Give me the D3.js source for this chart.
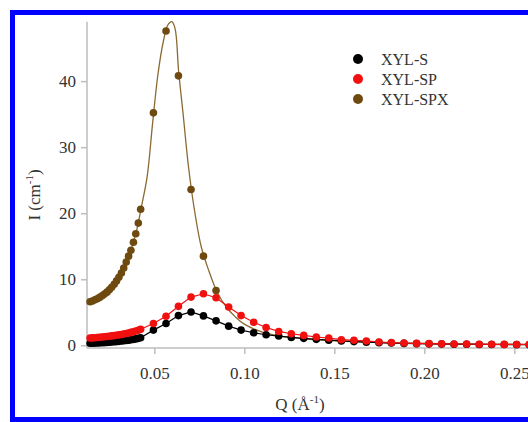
<!DOCTYPE html>
<html>
<head>
<meta charset="utf-8">
<script src="https://cdn.jsdelivr.net/npm/d3@7"></script>
<style>
  html, body { margin: 0; padding: 0; background: #fff; overflow: hidden; }
  svg { display: block; }
  svg text { font-family: "Liberation Serif", "Times New Roman", serif !important; }
</style>
</head>
<body>
<div id="chart"></div>
<script>
// 1: DATA
const seriesNames = ["XYL-S", "XYL-SP", "XYL-SPX"];

// low-Q detector points
const qLow = [0.0143, 0.0156, 0.0170, 0.0183, 0.0196, 0.0210, 0.0223, 0.0237, 0.0250, 0.0263, 0.0277,
              0.0290, 0.0303, 0.0317, 0.0330, 0.0344, 0.0357, 0.0370, 0.0384, 0.0397, 0.0411, 0.0424];
const sLow   = [0.30, 0.31, 0.33, 0.35, 0.37, 0.39, 0.41, 0.44, 0.47, 0.50, 0.53,
                0.56, 0.60, 0.64, 0.68, 0.73, 0.78, 0.84, 0.90, 0.97, 1.05, 1.15];
const spLow  = [1.10, 1.12, 1.15, 1.18, 1.21, 1.25, 1.29, 1.33, 1.37, 1.42, 1.47,
                1.52, 1.58, 1.64, 1.71, 1.78, 1.86, 1.95, 2.05, 2.16, 2.28, 2.42];
const spxLow = [6.6, 6.7, 6.9, 7.05, 7.25, 7.5, 7.75, 8.05, 8.4, 8.8, 9.25,
                9.75, 10.3, 10.95, 11.7, 12.6, 13.5, 14.4, 15.6, 16.9, 18.5, 20.6];

// high-Q detector points
const qHigh = [0.0495, 0.0565, 0.0634, 0.0704, 0.0773, 0.0843, 0.0913, 0.0982, 0.1052, 0.1121, 0.1191,
               0.1261, 0.1330, 0.1400, 0.1469, 0.1539, 0.1609, 0.1678, 0.1748, 0.1817, 0.1887, 0.1957,
               0.2026, 0.2096, 0.2165, 0.2235, 0.2305, 0.2374, 0.2444, 0.2513, 0.2583];
const sHigh  = [2.3, 3.3, 4.5, 5.05, 4.45, 3.7, 2.9, 2.3, 1.9, 1.6, 1.4,
                1.2, 1.05, 0.9, 0.78, 0.66, 0.56, 0.48, 0.40, 0.34, 0.29, 0.25,
                0.22, 0.19, 0.17, 0.15, 0.13, 0.12, 0.11, 0.10, 0.09];
const spHigh = [3.3, 4.4, 5.9, 7.3, 7.8, 7.2, 5.8, 4.5, 3.5, 2.7, 2.1,
                1.75, 1.5, 1.26, 1.1, 0.85, 0.76, 0.66, 0.50, 0.42, 0.34, 0.29,
                0.25, 0.22, 0.20, 0.18, 0.16, 0.15, 0.14, 0.13, 0.12];
const spxHighQ = [0.0495, 0.0565, 0.0634, 0.0704, 0.0773, 0.0843];
const spxHigh  = [35.2, 47.6, 40.8, 23.6, 13.5, 8.3];

// fitted curve for XYL-SPX
const fitQ = [0.0130, 0.0160, 0.0200, 0.0240, 0.0280, 0.0320, 0.0360, 0.0400, 0.0430, 0.0460, 0.0490,
              0.0520, 0.0550, 0.0575, 0.0597, 0.0615, 0.0635, 0.0660, 0.0690, 0.0720, 0.0760, 0.0800,
              0.0850, 0.0900, 0.0950, 0.1000, 0.1100, 0.1200, 0.1400, 0.1600, 0.1800, 0.2000, 0.2200,
              0.2400, 0.2600, 0.2800];
const fitI = [6.4, 6.75, 7.3, 8.15, 9.35, 11.1, 13.6, 17.2, 21.2, 25.5, 33.5,
              41, 46, 48.5, 49.0, 48.0, 41.5, 35, 27, 21, 15, 11.5,
              8.0, 5.8, 4.3, 3.2, 2.0, 1.4, 0.85, 0.55, 0.38, 0.28, 0.22,
              0.18, 0.15, 0.13];

const xTicks = [0.05, 0.10, 0.15, 0.20, 0.25];
const yTicks = [0, 10, 20, 30, 40];

// 2: SIZES
const W = 528, H = 422;
const colS = "#000000", colSP = "#f01010", colSPX = "#6e4a10";
const axisCol = "#bdbdbd", textCol = "#333";
const serif = '"Liberation Serif", "Times New Roman", serif';

const svg = d3.select("#chart").append("svg")
    .attr("width", W)
    .attr("height", H);

// blue frame
svg.append("rect")
    .attr("x", 12.5).attr("y", 12.5)
    .attr("width", 620).attr("height", 407)
    .attr("fill", "#fff")
    .attr("stroke", "#0000ff")
    .attr("stroke-width", 5);

// 3: SCALES
const x = d3.scaleLinear().domain([0.0126, 0.30]).range([87, 87 + (0.30 - 0.0126) * 1800]);
const y = d3.scaleLinear().domain([0, 49]).range([345.3, 21.7]);
const axisY = 348;

// 4: AXES
// y axis line + ticks
svg.append("line")
    .attr("x1", 87).attr("x2", 87)
    .attr("y1", y.range()[1]).attr("y2", axisY)
    .attr("stroke", axisCol).attr("stroke-width", 1.5);
const gy = svg.append("g")
    .attr("transform", "translate(87,0)")
    .call(d3.axisLeft(y).tickValues(yTicks).tickSize(6).tickSizeOuter(0).tickPadding(5));
gy.attr("font-family", serif);
gy.select(".domain").remove();
gy.selectAll(".tick line").attr("stroke", axisCol).attr("stroke-width", 1.5);
gy.selectAll(".tick text").attr("fill", textCol).style("font-size", "17px");

// x axis line + ticks
svg.append("line")
    .attr("x1", 87).attr("x2", W)
    .attr("y1", axisY).attr("y2", axisY)
    .attr("stroke", axisCol).attr("stroke-width", 1.5);
const gx = svg.append("g")
    .attr("transform", `translate(0,${axisY})`)
    .call(d3.axisBottom(x).tickValues(xTicks).tickFormat(d3.format(".2f")).tickSize(6).tickSizeOuter(0));
gx.attr("font-family", serif);
gx.select(".domain").remove();
gx.selectAll(".tick line").attr("stroke", axisCol).attr("stroke-width", 1.5);
gx.selectAll(".tick text")
    .attr("fill", textCol)
    .attr("y", 31).attr("dy", null)
    .style("font-size", "17px");

// 5: PLOT DATA
svg.append("clipPath").attr("id", "plotclip")
    .append("rect").attr("x", 80).attr("y", 15).attr("width", 600).attr("height", 340);
const plot = svg.append("g").attr("clip-path", "url(#plotclip)");

const line = d3.line().x(d => x(d[0])).y(d => y(d[1]));
const smooth = d3.line().x(d => x(d[0])).y(d => y(d[1])).curve(d3.curveCatmullRom);

// XYL-SPX fit + points
plot.append("path")
    .datum(fitQ.map((q, i) => [q, fitI[i]]))
    .attr("d", smooth)
    .attr("fill", "none")
    .attr("stroke", "#8a6a32")
    .attr("stroke-width", 1.3);

const spxPts = qLow.map((q, i) => [q, spxLow[i]]).concat(spxHighQ.map((q, i) => [q, spxHigh[i]]));
plot.selectAll(".spx").data(spxPts).enter().append("circle")
    .attr("class", "spx")
    .attr("cx", d => x(d[0])).attr("cy", d => y(d[1]))
    .attr("r", 3.8).attr("fill", colSPX);

// XYL-S
const sPts = qLow.map((q, i) => [q, sLow[i]]).concat(qHigh.map((q, i) => [q, sHigh[i]]));
plot.append("path").datum(sPts).attr("d", line)
    .attr("fill", "none").attr("stroke", colS).attr("stroke-width", 1.2);
plot.selectAll(".s").data(sPts).enter().append("circle")
    .attr("class", "s")
    .attr("cx", d => x(d[0])).attr("cy", d => y(d[1]))
    .attr("r", 3.8).attr("fill", colS);

// XYL-SP
const spPts = qLow.map((q, i) => [q, spLow[i]]).concat(qHigh.map((q, i) => [q, spHigh[i]]));
plot.append("path").datum(spPts).attr("d", line)
    .attr("fill", "none").attr("stroke", colSP).attr("stroke-width", 1.2);
plot.selectAll(".sp").data(spPts).enter().append("circle")
    .attr("class", "sp")
    .attr("cx", d => x(d[0])).attr("cy", d => y(d[1]))
    .attr("r", 3.8).attr("fill", colSP);

// 6: LABELS
const xt = svg.append("text")
    .attr("x", 300).attr("y", 410)
    .attr("text-anchor", "middle")
    .attr("fill", textCol)
    .style("font-family", serif)
    .style("font-size", "17px");
xt.append("tspan").text("Q (Å");
xt.append("tspan").attr("dy", -7).style("font-size", "11px").text("-1");
xt.append("tspan").attr("dy", 7).text(")");

const yt = svg.append("text")
    .attr("transform", "translate(40,195) rotate(-90)")
    .attr("text-anchor", "middle")
    .attr("fill", textCol)
    .style("font-family", serif)
    .style("font-size", "17px");
yt.append("tspan").text("I (cm");
yt.append("tspan").attr("dy", -7).style("font-size", "11px").text("-1");
yt.append("tspan").attr("dy", 7).text(")");

// legend
const legendColors = [colS, colSP, colSPX];
const leg = svg.selectAll(".leg").data(seriesNames).enter().append("g")
    .attr("class", "leg")
    .attr("transform", (d, i) => `translate(358,${59 + i * 20})`);
leg.append("circle").attr("r", 5).attr("fill", (d, i) => legendColors[i]);
leg.append("text")
    .attr("x", 23).attr("y", 6)
    .attr("fill", textCol)
    .style("font-family", serif)
    .style("font-size", "16px")
    .text(d => d);
</script>
</body>
</html>
